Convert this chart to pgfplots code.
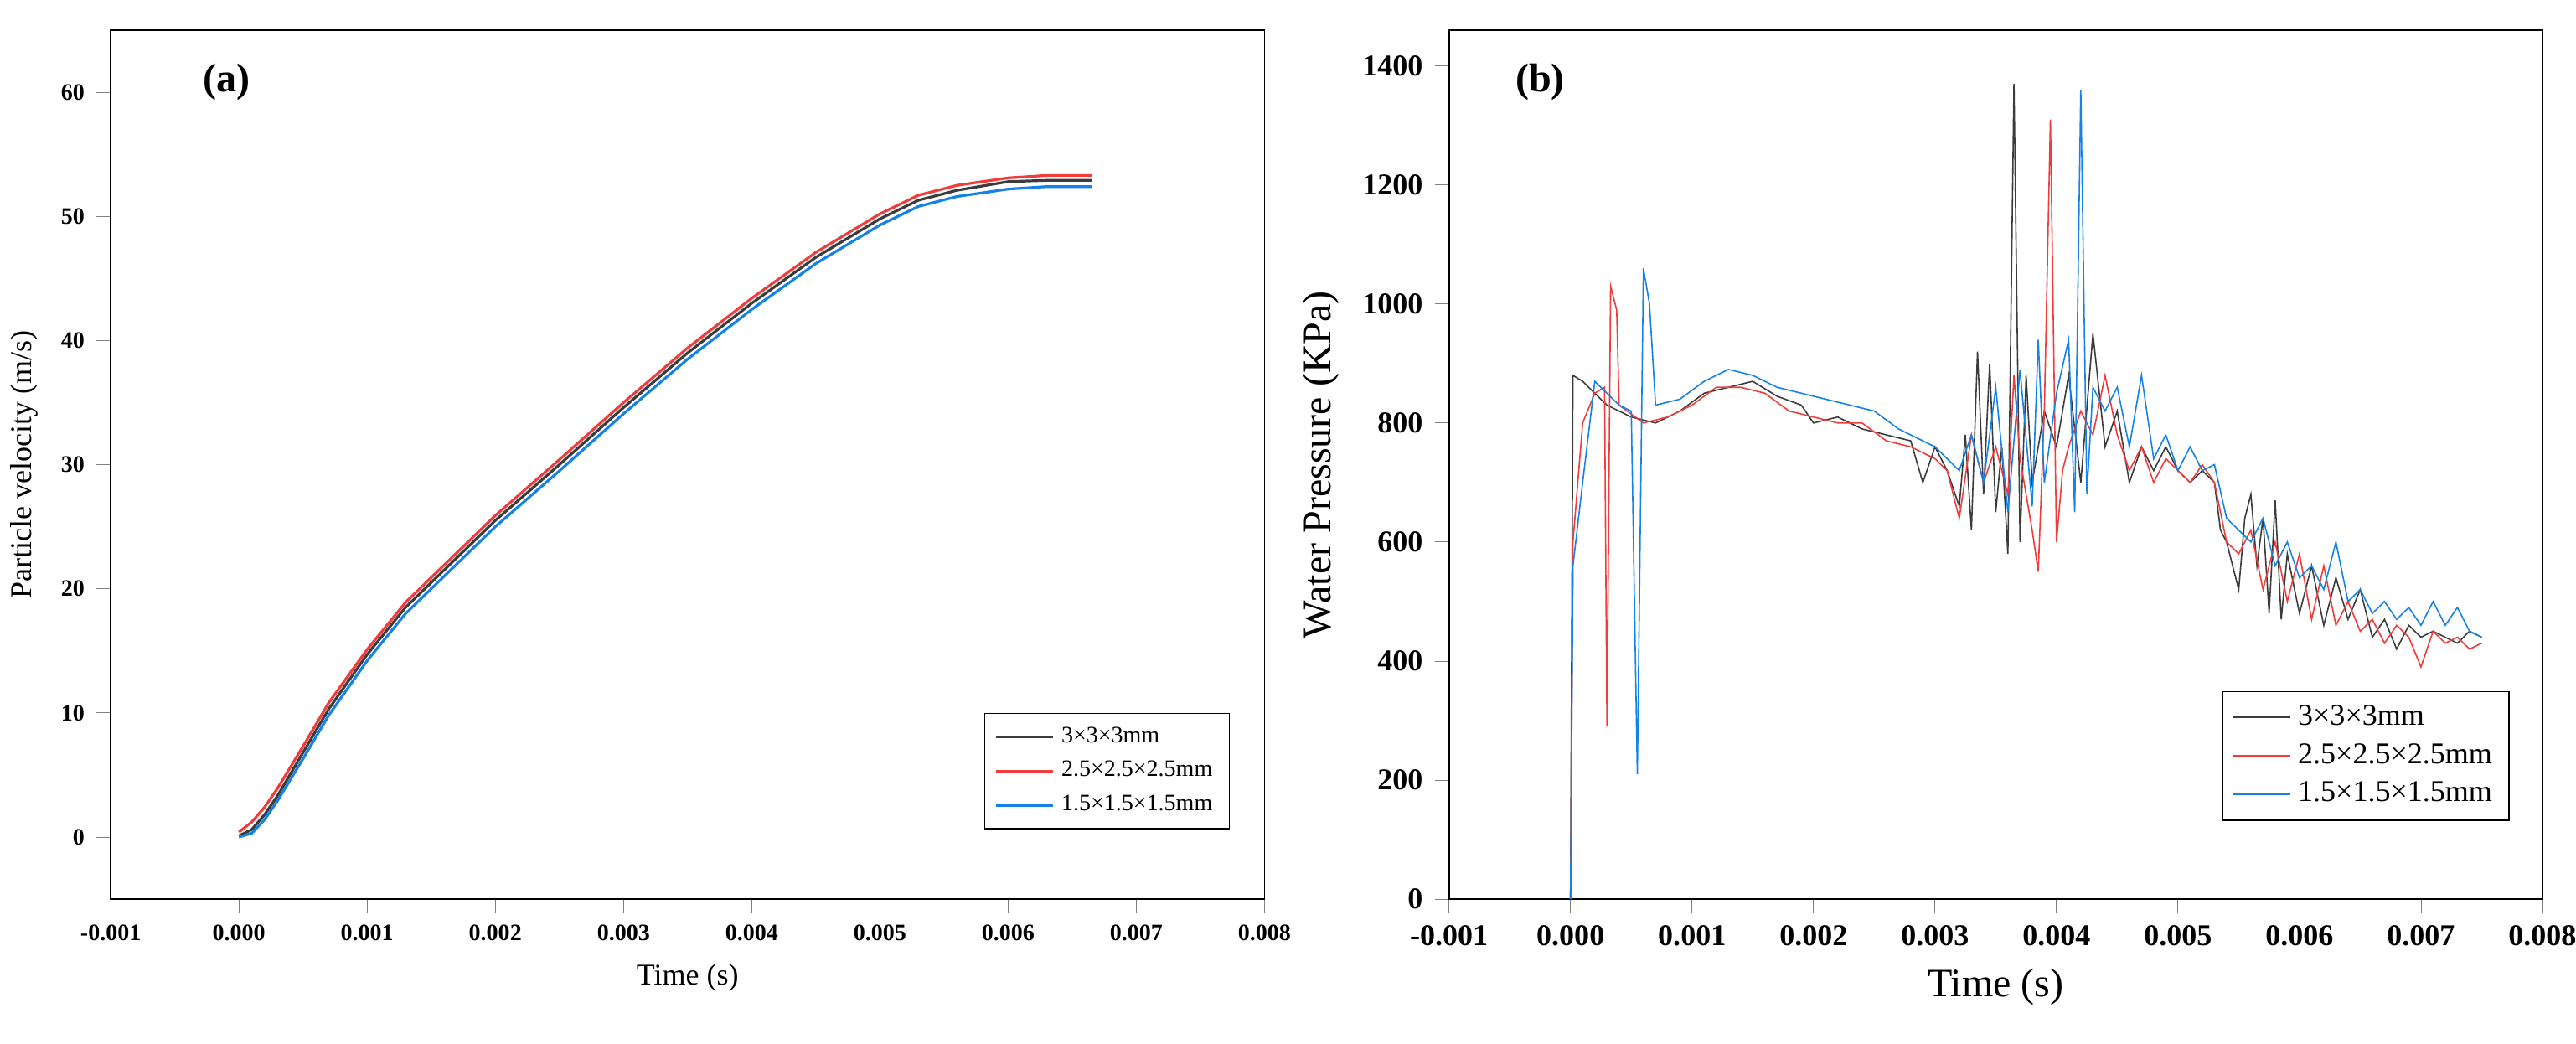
\documentclass[border=0pt]{standalone}
\usepackage{pgfplots}
\pgfplotsset{compat=1.18}
\usepackage{fontspec}
\setmainfont{Liberation Serif}
\definecolor{cb}{RGB}{60,60,60}
\definecolor{cr}{RGB}{240,60,60}
\definecolor{cu}{RGB}{20,130,230}
\pgfplotsset{every axis/.append style={scaled ticks=false,/pgf/number format/1000 sep={}}}
\begin{document}
\begin{tikzpicture}
\path[use as bounding box] (0,0) rectangle (768pt,311pt);
\begin{axis}[at={(33pt,43pt)},anchor=south west,scale only axis,width=344pt,height=259pt,
 xmin=-0.001,xmax=0.008,ymin=-5,ymax=65,
 xtick={-0.001,0,0.001,0.002,0.003,0.004,0.005,0.006,0.007,0.008},
 xticklabels={-0.001,0.000,0.001,0.002,0.003,0.004,0.005,0.006,0.007,0.008},
 ytick={0,10,20,30,40,50,60},
 tick label style={font=\bfseries\scriptsize},
 /pgf/number format/assume math mode=true,
 tick align=outside, xtick pos=bottom, ytick pos=left,
 xlabel={Time (s)}, ylabel={Particle velocity (m/s)},
 label style={font=\small},
 legend style={at={(0.97,0.08)},anchor=south east,font=\scriptsize,cells={anchor=west}},
 legend cell align=left]
\addplot[cb,thick] coordinates {(0,0.1)(0.0001,0.6)(0.0002,1.8)(0.0003,3.3)(0.0005,6.8)(0.0007,10.3)(0.001,14.7)(0.0013,18.5)(0.0016,21.5)(0.002,25.5)(0.0025,30)(0.003,34.6)(0.0035,39)(0.004,43)(0.0045,46.7)(0.005,49.8)(0.0053,51.3)(0.0056,52.1)(0.006,52.8)(0.0063,52.9)(0.00665,52.9)};
\addplot[cr,thick] coordinates {(0,0.4)(0.0001,1.2)(0.0002,2.4)(0.0003,3.9)(0.0005,7.3)(0.0007,10.8)(0.001,15.1)(0.0013,18.9)(0.0016,21.9)(0.002,25.9)(0.0025,30.4)(0.003,35)(0.0035,39.4)(0.004,43.4)(0.0045,47.1)(0.005,50.2)(0.0053,51.7)(0.0056,52.5)(0.006,53.1)(0.0063,53.3)(0.00665,53.3)};
\addplot[cu,thick] coordinates {(0,0)(0.0001,0.3)(0.0002,1.4)(0.0003,2.9)(0.0005,6.3)(0.0007,9.8)(0.001,14.2)(0.0013,18)(0.0016,21)(0.002,25)(0.0025,29.5)(0.003,34.1)(0.0035,38.5)(0.004,42.5)(0.0045,46.2)(0.005,49.3)(0.0053,50.8)(0.0056,51.6)(0.006,52.2)(0.0063,52.4)(0.00665,52.4)};
\legend{3×3×3mm,2.5×2.5×2.5mm,1.5×1.5×1.5mm}
\node[font=\bfseries\large,anchor=north west] at (rel axis cs:0.07,0.975) {(a)};
\end{axis}
\begin{axis}[at={(432pt,43pt)},anchor=south west,scale only axis,width=326pt,height=259pt,
 xmin=-0.001,xmax=0.008,ymin=0,ymax=1460,
 xtick={-0.001,0,0.001,0.002,0.003,0.004,0.005,0.006,0.007,0.008},
 xticklabels={-0.001,0.000,0.001,0.002,0.003,0.004,0.005,0.006,0.007,0.008},
 ytick={0,200,400,600,800,1000,1200,1400},
 tick label style={font=\bfseries\small},
 /pgf/number format/assume math mode=true,
 tick align=outside, xtick pos=bottom, ytick pos=left,
 xlabel={Time (s)}, ylabel={Water Pressure (KPa)},
 label style={font=\large},
 legend style={at={(0.97,0.09)},anchor=south east,font=\small,cells={anchor=west}},
 legend cell align=left]
\addplot[cb] coordinates {(0,0)(0.00002,880)(0.0001,870)(0.0003,830)(0.0005,810)(0.0007,800)(0.0009,820)(0.0011,850)(0.0013,860)(0.0015,870)(0.0017,845)(0.0019,830)(0.002,800)(0.0022,810)(0.0024,790)(0.0026,780)(0.0028,770)(0.0029,700)(0.003,760)(0.0031,720)(0.0032,660)(0.00325,780)(0.0033,620)(0.00335,920)(0.0034,680)(0.00345,900)(0.0035,650)(0.00355,760)(0.0036,580)(0.00365,1370)(0.0037,600)(0.00375,880)(0.0038,700)(0.0039,820)(0.004,760)(0.0041,880)(0.0042,700)(0.0043,950)(0.0044,760)(0.0045,820)(0.0046,700)(0.0047,760)(0.0048,720)(0.0049,760)(0.005,720)(0.0051,700)(0.0052,720)(0.0053,700)(0.00535,620)(0.0054,600)(0.0055,520)(0.00555,640)(0.0056,680)(0.00565,560)(0.0057,640)(0.00575,480)(0.0058,670)(0.00585,470)(0.0059,580)(0.006,480)(0.0061,560)(0.0062,460)(0.0063,540)(0.0064,470)(0.0065,520)(0.0066,440)(0.0067,470)(0.0068,420)(0.0069,460)(0.007,440)(0.0071,450)(0.0072,440)(0.0073,430)(0.0074,450)(0.0075,440)};
\addplot[cr] coordinates {(0,0)(0.00002,600)(0.0001,800)(0.0002,850)(0.00028,860)(0.0003,290)(0.00033,1030)(0.00038,990)(0.0004,830)(0.0006,800)(0.0008,810)(0.001,830)(0.0012,860)(0.0014,860)(0.0016,850)(0.0018,820)(0.002,810)(0.0022,800)(0.0024,800)(0.0026,770)(0.0028,760)(0.003,740)(0.0031,720)(0.0032,640)(0.0033,780)(0.0034,700)(0.0035,760)(0.0036,680)(0.00365,880)(0.0037,740)(0.0038,620)(0.00385,550)(0.0039,820)(0.00395,1310)(0.004,600)(0.00405,720)(0.0041,760)(0.0042,820)(0.0043,780)(0.0044,880)(0.0045,780)(0.0046,720)(0.0047,760)(0.0048,700)(0.0049,740)(0.005,720)(0.0051,700)(0.0052,730)(0.0053,700)(0.0054,600)(0.0055,580)(0.0056,620)(0.0057,520)(0.0058,600)(0.0059,500)(0.006,580)(0.0061,470)(0.0062,560)(0.0063,460)(0.0064,500)(0.0065,450)(0.0066,470)(0.0067,430)(0.0068,460)(0.0069,440)(0.007,390)(0.0071,450)(0.0072,430)(0.0073,440)(0.0074,420)(0.0075,430)};
\addplot[cu] coordinates {(0,0)(0.00002,560)(0.0001,700)(0.0002,870)(0.0004,830)(0.0005,820)(0.00055,210)(0.0006,1060)(0.00065,1000)(0.0007,830)(0.0009,840)(0.0011,870)(0.0013,890)(0.0015,880)(0.0017,860)(0.0019,850)(0.0021,840)(0.0023,830)(0.0025,820)(0.0027,790)(0.0029,770)(0.003,760)(0.0031,740)(0.0032,720)(0.0033,780)(0.0034,700)(0.0035,860)(0.0036,650)(0.0037,890)(0.0038,660)(0.00385,940)(0.0039,700)(0.004,850)(0.0041,940)(0.00415,650)(0.0042,1360)(0.00425,680)(0.0043,860)(0.0044,820)(0.0045,860)(0.0046,760)(0.0047,880)(0.0048,740)(0.0049,780)(0.005,720)(0.0051,760)(0.0052,720)(0.0053,730)(0.0054,640)(0.0055,620)(0.0056,600)(0.0057,640)(0.0058,560)(0.0059,600)(0.006,540)(0.0061,560)(0.0062,520)(0.0063,600)(0.0064,500)(0.0065,520)(0.0066,480)(0.0067,500)(0.0068,470)(0.0069,490)(0.007,460)(0.0071,500)(0.0072,460)(0.0073,490)(0.0074,450)(0.0075,440)};
\legend{3×3×3mm,2.5×2.5×2.5mm,1.5×1.5×1.5mm}
\node[font=\bfseries\large,anchor=north west] at (rel axis cs:0.05,0.975) {(b)};
\end{axis}
\end{tikzpicture}
\end{document}
